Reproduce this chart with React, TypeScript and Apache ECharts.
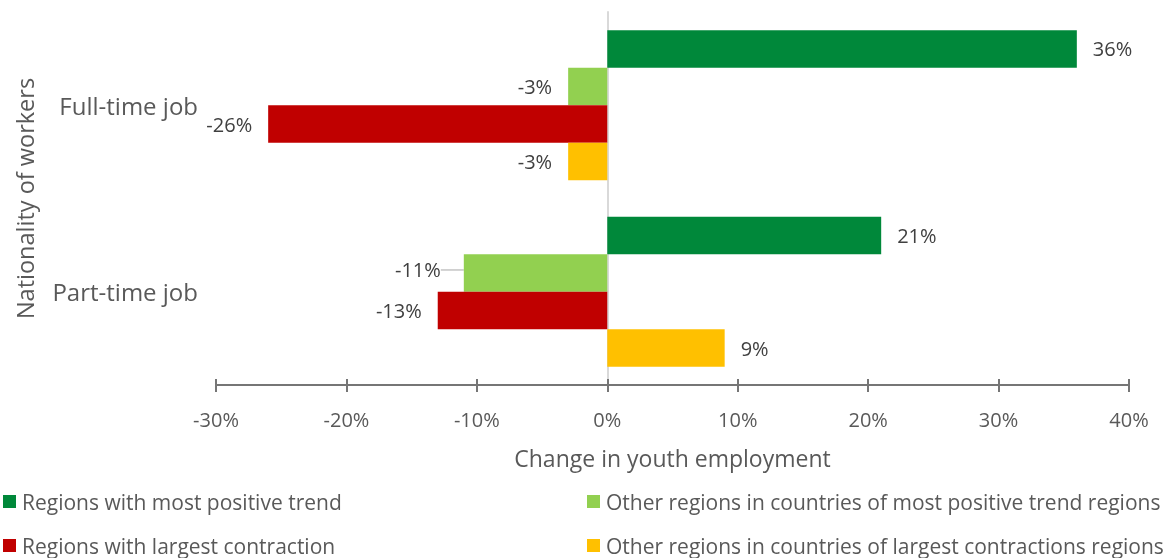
import React, { useEffect, useRef } from "react";
import * as echarts from "echarts";

const categories = ["Full-time job", "Part-time job"];
const seriesNames = [
  "Regions with most positive trend",
  "Other regions in countries of most positive trend regions",
  "Regions with largest contraction",
  "Other regions in countries of largest contractions regions",
];
const mostPositive = [36, 21];
const otherPositive = [-3, -11];
const largestContraction = [-26, -13];
const otherContraction = [-3, 9];
const colors = ["#00883A", "#92D050", "#C00000", "#FFC000"];

const FONT = "'Open Sans', sans-serif";
const TXT = "#595959";

export default function App() {
  const ref = useRef<HTMLDivElement>(null);
  useEffect(() => {
    if (!ref.current) return;
    const chart = echarts.init(ref.current, undefined, { renderer: "svg" });
    const values = [mostPositive, otherPositive, largestContraction, otherContraction];
    const series = values.map((vals, i) => ({
      name: seriesNames[i],
      type: "bar",
      data: vals.map((v, j) =>
        i === 1 ? { value: v, labelLine: { show: j === 1 } } : v
      ),
      barGap: "0%",
      barCategoryGap: "19.5%",
      itemStyle: { color: colors[i] },
      label: {
        show: true,
        position: "outside",
        formatter: (p: any) => `${p.value}%`,
        color: "#404040",
        fontFamily: FONT,
        fontSize: 20,
        distance: 16,
      },
      labelLine: i === 1 ? { show: false, lineStyle: { color: "#A6A6A6", width: 1 } } : undefined,
      labelLayout:
        i === 1
          ? (p: any) => (p.dataIndex === 1 ? { dx: -7, dy: -3 } : {})
          : undefined,
    }));
    const legendCommon = {
      orient: "horizontal",
      itemWidth: 13,
      itemHeight: 13,
      icon: "rect",
      textStyle: { color: TXT, fontSize: 21, fontFamily: FONT, padding: [0, 0, 0, 1] },
    };
    const legendPos = [
      { left: -2, top: 486 },
      { left: 582, top: 486 },
      { left: -2, top: 530 },
      { left: 582, top: 530 },
    ];
    chart.setOption({
      animation: false,
      textStyle: { fontFamily: FONT },
      grid: { left: 216, right: 42, top: 12, bottom: 173, containLabel: false, outerBoundsMode: "none" },
      legend: seriesNames.map((n, i) => ({ ...legendCommon, data: [n], ...legendPos[i] })),
      xAxis: [
        {
          type: "value",
          min: -30,
          max: 40,
          interval: 10,
          splitLine: { show: false },
          axisLine: { show: true, lineStyle: { color: "#767676", width: 2 } },
          axisTick: { show: true, length: 7, lineStyle: { color: "#767676", width: 2 } },
          axisLabel: {
            formatter: (v: number) => `${v}%`,
            color: TXT,
            fontSize: 20,
            fontFamily: FONT,
            margin: 24,
          },
          name: "Change in youth employment",
          nameLocation: "middle",
          nameGap: 61,
          nameTextStyle: { color: TXT, fontSize: 23, fontFamily: FONT },
        },
        {
          type: "value",
          position: "bottom",
          min: -30,
          max: 40,
          interval: 10,
          splitLine: { show: false },
          axisLine: { show: false },
          axisTick: { show: true, inside: true, length: 6, lineStyle: { color: "#767676", width: 2 } },
          axisLabel: { show: false },
        },
      ],
      yAxis: {
        type: "category",
        data: categories,
        inverse: true,
        axisTick: { show: false },
        axisLine: { show: true, onZero: true, lineStyle: { color: "#D9D9D9", width: 2 } },
        axisLabel: {
          color: TXT,
          fontSize: 24,
          fontFamily: FONT,
          margin: 18,
        },
        name: "Nationality of workers",
        nameLocation: "middle",
        nameGap: 179,
        nameRotate: 90,
        nameTextStyle: { color: TXT, fontSize: 23.5, fontFamily: FONT },
      },
      series,
    });
    return () => chart.dispose();
  }, []);
  return (
    <div
      ref={ref}
      style={{ width: 1171, height: 558, position: "fixed", left: 0, top: 0 }}
    />
  );
}
